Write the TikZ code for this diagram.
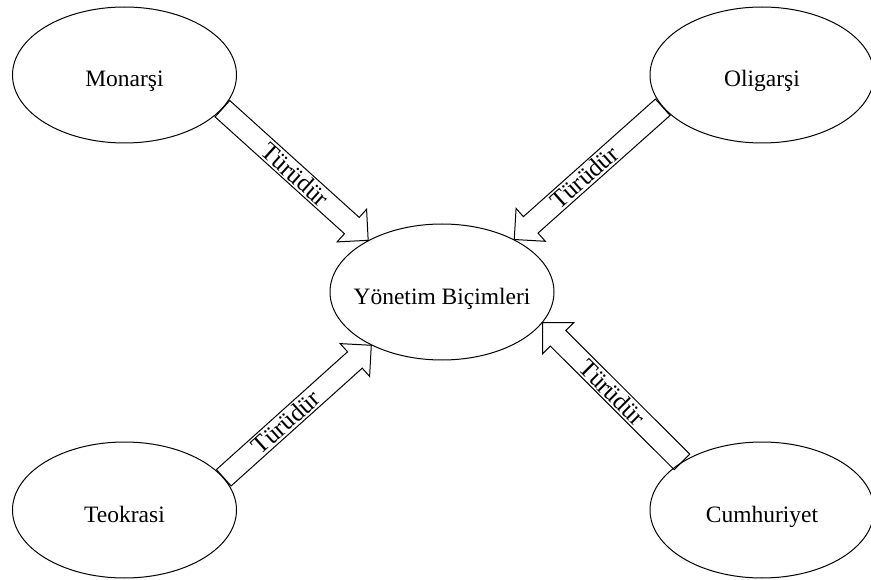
\documentclass[tikz,border=0pt]{standalone}
\usepackage{fontspec}
\setmainfont{Liberation Serif}
\usetikzlibrary{shapes.geometric,calc}

\tikzset{
  form/.style={ellipse, draw=black, line width=1pt,
    minimum width=224pt, minimum height=136pt, inner sep=0pt},
  formtext/.style={anchor=base, inner sep=0pt,
    font=\fontsize{23.5}{28}\selectfont},
  arrowtext/.style={sloped, inner sep=0pt,
    font=\fontsize{25}{29}\selectfont},
  % hollow block arrow from the start point to the tip
  blockarrow/.style={draw=black, line width=1pt, line join=miter,
    to path={
      let \p1=(\tikztostart), \p2=(\tikztotarget),
          \n1={atan2(\y2-\y1,\x2-\x1)},
          \n2={veclen(\x2-\x1,\y2-\y1)-22}
      in ($(\p1)+(\n1+90:11pt)$)
      -- ($(\p1)+(\n1:\n2)+(\n1+90:11pt)$)
      -- ($(\p1)+(\n1:\n2)+(\n1+90:22pt)$)
      -- (\p2)
      -- ($(\p1)+(\n1:\n2)+(\n1-90:22pt)$)
      -- ($(\p1)+(\n1:\n2)+(\n1-90:11pt)$)
      -- ($(\p1)+(\n1-90:11pt)$)
      -- cycle}}
}

\begin{document}
\begin{tikzpicture}[x=1pt,y=1pt]
  \useasboundingbox (0,0) rectangle (871,-580);

  % forms of government
  \node[form] (mon) at (124.5,-75) {};
  \node[form] (oli) at (762,-75) {};
  \node[form] (yon) at (442,-292) {};
  \node[form] (teo) at (124.5,-510) {};
  \node[form] (cum) at (762,-510) {};

  \node[formtext] (mon-t) at ([yshift=-12pt]mon.center) {Monarşi};
  \node[formtext] (oli-t) at ([yshift=-12pt]oli.center) {Oligarşi};
  \node[formtext] (yon-t) at ([yshift=-13pt]yon.center) {Yönetim Biçimleri};
  \node[formtext] (teo-t) at ([yshift=-12pt]teo.center) {Teokrasi};
  \node[formtext] (cum-t) at ([yshift=-12pt]cum.center) {Cumhuriyet};

  % block arrows towards the central node
  \draw[blockarrow] (mon.-19) to (yon.145);
  \draw[blockarrow] (oli.-162.5) to (yon.36);
  \draw[blockarrow] (teo.18.5) to (yon.-143.5);
  \draw[blockarrow] (cum.149.6) to (yon.-17);

  % arrow labels
  \path (mon.-19) -- node[arrowtext, pos=0.5] (t1) {Türüdür} (yon.145);
  \path (oli.-162.5) -- node[arrowtext, pos=0.53] (t2) {Türüdür} (yon.36);
  \path (teo.18.5) -- node[arrowtext, pos=0.42] (t3) {Türüdür} (yon.-143.5);
  \path (cum.149.6) -- node[arrowtext, pos=0.5] (t4) {Türüdür} (yon.-17);
\end{tikzpicture}
\end{document}
